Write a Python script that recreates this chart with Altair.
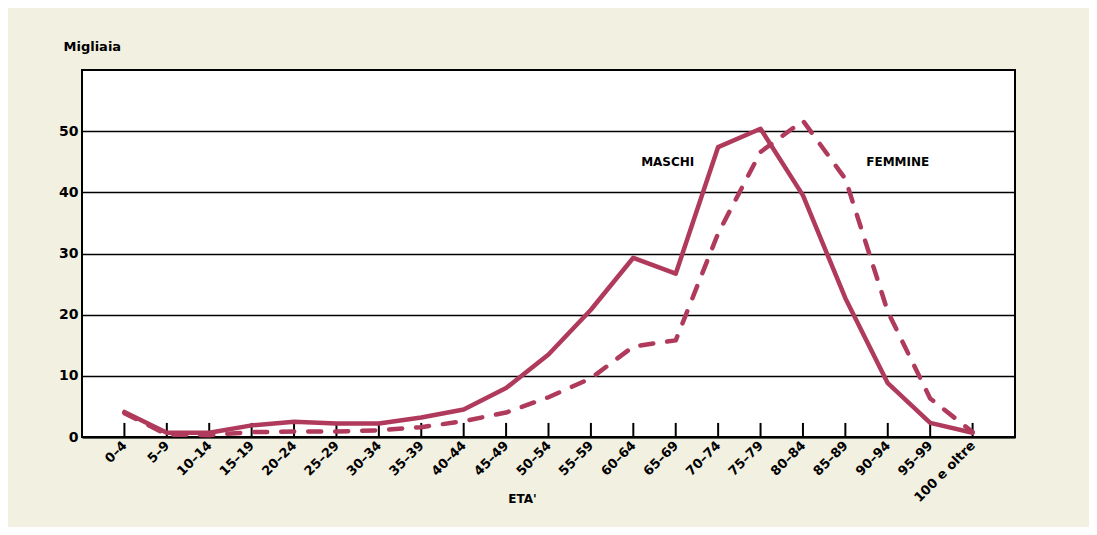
import altair as alt
import pandas as pd

categories = ["0–4", "5–9", "10–14", "15–19", "20–24", "25–29", "30–34", "35–39",
              "40–44", "45–49", "50–54", "55–59", "60–64", "65–69", "70–74", "75–79",
              "80–84", "85–89", "90–94", "95–99", "100 e oltre"]
maschi = [4.1, 0.7, 0.7, 1.9, 2.5, 2.2, 2.2, 3.2, 4.5, 8.0, 13.5, 20.8, 29.3, 26.7,
          47.4, 50.4, 39.5, 22.7, 8.8, 2.3, 0.7]
femmine = [3.9, 0.4, 0.3, 0.8, 0.9, 0.9, 1.1, 1.6, 2.6, 4.0, 6.5, 9.6, 14.8, 15.8,
           33.3, 46.6, 51.7, 42.2, 20.5, 6.3, 0.8]
y_ticks = [0, 10, 20, 30, 40, 50]
ann_text = ["MASCHI", "FEMMINE"]
ann_cat = ["65–69", "90–94"]
ann_val = [45.0, 45.0]
ann_dx = [-8, 10]

FONT = "DejaVu Sans"
RED = "#b03a5b"

df_m = pd.DataFrame({"eta": categories, "val": maschi})
df_f = pd.DataFrame({"eta": categories, "val": femmine})
df_c = pd.DataFrame({"eta": categories, "lo": [0.0] * len(categories),
                     "hi": [2.3] * len(categories)})

xscale = alt.Scale(type="point", domain=categories, padding=1)
yscale = alt.Scale(domain=[0, 60], nice=False, zero=True)

xaxis = alt.Axis(labelAngle=-45, labelFont=FONT, labelFontSize=13, labelFontWeight="bold",
                 labelColor="black", tickSize=0, domainColor="black", domainWidth=2,
                 labelPadding=6, grid=False, title="ETA'", titleFont=FONT,
                 titleFontSize=12, titleFontWeight="bold", titleColor="black",
                 titleX=440, titleY=65, titleBaseline="alphabetic", titleAlign="center")
yaxis = alt.Axis(values=y_ticks, grid=True, gridColor="black", gridWidth=1.6,
                 tickSize=0, domain=False, labelFont=FONT, labelFontSize=14,
                 labelFontWeight="bold", labelColor="black", labelPadding=4,
                 title="Migliaia", titleAngle=0, titleAlign="left",
                 titleBaseline="alphabetic", titleX=-19, titleY=-20, titleFont=FONT,
                 titleFontSize=13, titleFontWeight="bold", titleColor="black")

base_m = alt.Chart(df_m).mark_line(color=RED, strokeWidth=4.5, strokeJoin="round",
                                   strokeCap="round").encode(
    x=alt.X("eta:N", scale=xscale, axis=xaxis, sort=categories),
    y=alt.Y("val:Q", scale=yscale, axis=yaxis),
)
line_f = alt.Chart(df_f).mark_line(color=RED, strokeWidth=4.5, strokeDash=[13, 14],
                                   strokeCap="round", strokeJoin="round").encode(
    x=alt.X("eta:N", scale=xscale, sort=categories),
    y=alt.Y("val:Q", scale=yscale),
)
ticks = alt.Chart(df_c).mark_rule(color="black", strokeWidth=2).encode(
    x=alt.X("eta:N", scale=xscale, sort=categories),
    y=alt.Y("lo:Q", scale=yscale),
    y2="hi:Q",
)
texts = []
for t, c, v, d in zip(ann_text, ann_cat, ann_val, ann_dx):
    dft = pd.DataFrame({"eta": [c], "val": [v], "label": [t]})
    texts.append(alt.Chart(dft).mark_text(font=FONT, fontSize=12, fontWeight="bold",
                                          color="black", align="center",
                                          baseline="middle", dx=d).encode(
        x=alt.X("eta:N", scale=xscale, sort=categories),
        y=alt.Y("val:Q", scale=yscale),
        text="label:N",
    ))

chart = alt.layer(ticks, line_f, base_m, *texts).properties(
    width=933, height=367,
    padding={"left": 74, "top": 62, "right": 74, "bottom": 90},
    autosize=alt.AutoSizeParams(type="none"),
    background="#f2f0e0",
).configure_view(fill="white", stroke="black", strokeWidth=2)

chart.save("out.html", embed_options={"renderer": "svg", "actions": False})
